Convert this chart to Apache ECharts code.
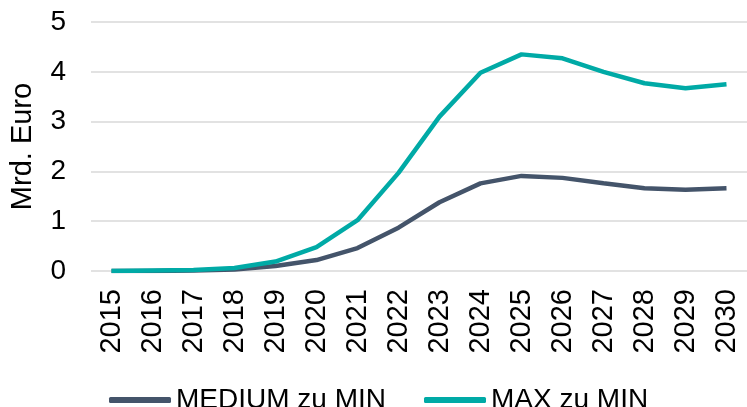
<!DOCTYPE html>
<html>
<head>
<meta charset="utf-8">
<script src="https://cdn.jsdelivr.net/npm/echarts@6/dist/echarts.min.js"></script>
<style>
  html, body { margin: 0; padding: 0; background: #fff; }
  #chart { width: 747px; height: 407px; }
</style>
</head>
<body>
<div id="chart"></div>
<script>
const years = ['2015', '2016', '2017', '2018', '2019', '2020', '2021', '2022',
  '2023', '2024', '2025', '2026', '2027', '2028', '2029', '2030']
const mediumZuMin = [0, 0, 0.01, 0.03, 0.1, 0.22, 0.46, 0.87, 1.38, 1.76, 1.91, 1.87, 1.76, 1.66, 1.63, 1.66]
const maxZuMin = [0, 0.01, 0.02, 0.06, 0.19, 0.48, 1.02, 1.97, 3.1, 3.98, 4.35, 4.27, 4.0, 3.77, 3.67, 3.75]
const yTicks = [0, 1, 2, 3, 4, 5]

const font = 'Liberation Sans, Arial, sans-serif'
const myChart = echarts.init(document.getElementById('chart'))
const option = {
  animation: false,
  textStyle: { fontFamily: font },
  grid: {
    left: 88,
    top: 22,
    height: 249,
    width: 670
  },
  legend: {
    left: 104,
    top: 381,
    itemWidth: 62,
    itemHeight: 6,
    itemGap: 38,
    icon: 'roundRect',
    textStyle: { color: '#000', fontSize: 28, fontFamily: font },
    data: ['MEDIUM zu MIN', 'MAX zu MIN']
  },
  xAxis: {
    type: 'category',
    data: years,
    boundaryGap: true,
    axisLine: { show: false },
    axisTick: { show: false },
    axisLabel: {
      rotate: 90,
      margin: 18,
      interval: 0,
      color: '#000',
      fontSize: 29,
      fontFamily: font
    }
  },
  yAxis: {
    type: 'value',
    min: yTicks[0],
    max: yTicks[yTicks.length - 1],
    interval: 1,
    name: 'Mrd. Euro',
    nameLocation: 'middle',
    nameGap: 54,
    nameTextStyle: { color: '#000', fontSize: 29, fontFamily: font },
    axisLine: { show: false },
    axisTick: { show: false },
    axisLabel: { color: '#000', fontSize: 28, margin: 25, fontFamily: font },
    splitLine: { lineStyle: { color: '#d9d9d9', width: 1.5 } }
  },
  series: [
    {
      name: 'MEDIUM zu MIN',
      type: 'line',
      data: mediumZuMin,
      color: '#44546a',
      showSymbol: false,
      lineStyle: { width: 4.5, color: '#44546a' }
    },
    {
      name: 'MAX zu MIN',
      type: 'line',
      data: maxZuMin,
      color: '#00aaa6',
      showSymbol: false,
      lineStyle: { width: 4.5, color: '#00aaa6' }
    }
  ]
}
myChart.setOption(option)
</script>
</body>
</html>
